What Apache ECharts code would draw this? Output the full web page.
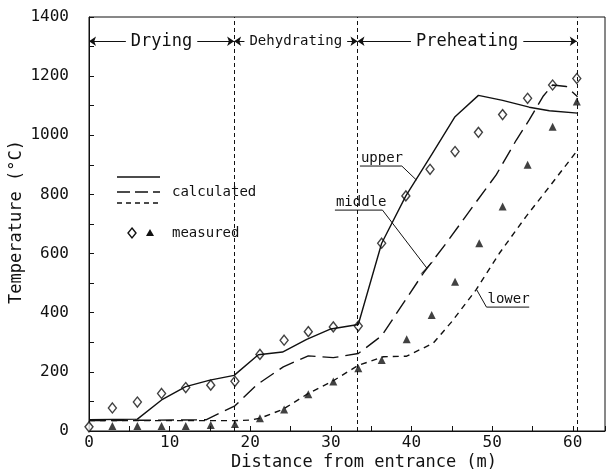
<!DOCTYPE html>
<html lang="en">
<head>
  <meta charset="UTF-8">
  <title>Temperature along the kiln</title>
  <script src="https://cdn.jsdelivr.net/npm/echarts@6/dist/echarts.min.js"></script>
  <style>
    body { margin: 0; background: #fff; }
    #chart { width: 608px; height: 471px; }
  </style>
</head>
<body>
  <div id="chart"></div>
  <script>
    // calculated temperature profiles [distance m, temperature °C]
    const upperCalc = [[0, 38], [6, 40], [9, 105], [12, 150], [15, 172], [18, 188], [21, 258], [24, 267], [27, 310], [30, 345], [33.4, 360], [36.3, 635], [39.3, 795], [42.5, 935], [45.4, 1063], [48.3, 1135], [51.3, 1118], [54.6, 1095], [57.1, 1083], [60.6, 1075]];
    const middleCalc = [[0, 35], [14.5, 38], [18.1, 85], [20.8, 156], [24.1, 217], [27.2, 254], [30.3, 248], [33.4, 262], [36.3, 322], [41.5, 535], [44.3, 635], [47.6, 759], [50.5, 866], [53, 984], [54.6, 1052], [56.3, 1131], [57.5, 1170], [59.2, 1165], [60.6, 1130]];
    const lowerCalc = [[0, 35], [18, 35], [20, 37], [21.2, 43], [24.1, 74], [27.2, 127], [30.3, 170], [33.4, 222], [36.5, 251], [39.4, 253], [42.7, 297], [45, 370], [48, 477], [50.9, 601], [54.2, 725], [57.1, 826], [60.6, 950]];

    // measured values
    const upperMeas = [[0, 14], [2.9, 78], [6, 98], [9, 127], [12, 147], [15.1, 155], [18.1, 168], [21.2, 259], [24.2, 307], [27.2, 336], [30.3, 352], [33.4, 355], [36.3, 635], [39.3, 795], [42.3, 885], [45.4, 945], [48.3, 1010], [51.3, 1070], [54.4, 1125], [57.5, 1170], [60.5, 1192]];
    const lowerMeas = [[2.9, 17], [6, 17], [9, 17], [12, 17], [15.1, 20], [18.1, 24], [21.2, 43], [24.2, 73], [27.2, 124], [30.3, 167], [33.4, 212], [36.3, 240], [39.4, 310], [42.5, 392], [45.4, 505], [48.4, 635], [51.3, 759], [54.4, 900], [57.5, 1029], [60.5, 1114]];

    // zones along the kiln
    const zoneBounds = [0, 18, 33.3, 60.5];
    const zoneNames = ['Drying', 'Dehydrating', 'Preheating'];
    const zoneFontSizes = [17, 14, 17];
    const zoneLevel = 1318;

    const FONT = '"DejaVu Sans Mono", monospace';
    const INK = '#111';

    const chart = echarts.init(document.getElementById('chart'));

    const zoneArrows = zoneNames.map((name, i) => [
      { coord: [zoneBounds[i], zoneLevel], name: name, label: { fontSize: zoneFontSizes[i] } },
      { coord: [zoneBounds[i + 1], zoneLevel] }
    ]);

    const option = {
      animation: false,
      grid: { left: 89, right: 3, top: 17, bottom: 40, show: true, borderColor: INK, borderWidth: 1 },
      xAxis: {
        type: 'value', min: 0, max: 64, interval: 5,
        axisLine: { lineStyle: { color: INK } },
        axisTick: { inside: true, length: 5, lineStyle: { color: INK } },
        splitLine: { show: false },
        axisLabel: {
          margin: 4, fontSize: 16, fontFamily: FONT, color: INK,
          formatter: v => (v % 10 === 0 ? v : '')
        }
      },
      yAxis: {
        type: 'value', min: 0, max: 1400, interval: 100,
        axisLine: { lineStyle: { color: INK } },
        axisTick: { inside: true, length: 5, lineStyle: { color: INK } },
        splitLine: { show: false },
        axisLabel: {
          margin: 20, fontSize: 16, fontFamily: FONT, color: INK,
          formatter: v => (v % 200 === 0 ? v : '')
        }
      },
      series: [
        {
          name: 'upper', type: 'line', data: upperCalc, symbol: 'none',
          lineStyle: { color: INK, width: 1.4 }
        },
        {
          name: 'middle', type: 'line', data: middleCalc, symbol: 'none',
          lineStyle: { color: INK, width: 1.4, type: [16, 7] }
        },
        {
          name: 'lower', type: 'line', data: lowerCalc, symbol: 'none',
          lineStyle: { color: INK, width: 1.4, type: [6, 5] }
        },
        {
          name: 'measured upper', type: 'scatter', data: upperMeas, symbol: 'diamond', symbolSize: [8, 10],
          itemStyle: { color: '#fff', borderColor: INK, borderWidth: 1.4 },
          markLine: {
            silent: true, symbol: ['arrow', 'arrow'], symbolSize: 7,
            lineStyle: { color: INK, width: 1, type: 'solid' },
            label: {
              show: true, position: 'middle', distance: 0, verticalAlign: 'middle',
              formatter: '{b}', color: INK, fontFamily: FONT,
              backgroundColor: '#fff', padding: [0, 5]
            },
            data: zoneArrows
          }
        },
        {
          name: 'measured lower', type: 'scatter', data: lowerMeas, symbol: 'triangle', symbolSize: 8,
          itemStyle: { color: INK },
          markLine: {
            silent: true, symbol: 'none',
            lineStyle: { color: INK, width: 1, type: [4, 3] },
            label: { show: false },
            data: zoneBounds.slice(1).map(x => ({ xAxis: x }))
          }
        }
      ]
    };
    chart.setOption(option);

    // annotation leaders, placed in data units
    const px = p => chart.convertToPixel({ gridIndex: 0 }, p);
    const notes = [
      { text: 'upper', pts: [[33.6, 896], [38.8, 896], [40.6, 849]] },
      { text: 'middle', pts: [[30.5, 747], [36.4, 747], [41.9, 551]], lead: [[41.2, 532], [42.6, 572]] },
      { text: 'lower', pts: [[49.3, 419], [54.6, 419]], lead: [[49.3, 419], [48.1, 477]] }
    ];
    const graphics = [];
    notes.forEach(n => {
      const p = n.pts.map(px);
      graphics.push({ type: 'polyline', shape: { points: p }, style: { stroke: INK, lineWidth: 1, fill: null } });
      if (n.lead) {
        graphics.push({ type: 'polyline', shape: { points: n.lead.map(px) }, style: { stroke: INK, lineWidth: 1, fill: null } });
      }
      graphics.push({
        type: 'text',
        style: { text: n.text, x: p[0][0] + 1, y: p[0][1] - 1, font: '14px ' + FONT, fill: INK, textVerticalAlign: 'bottom' }
      });
    });

    // legend box (drawn by hand like the original)
    graphics.push(
      { type: 'line', shape: { x1: 117, y1: 177, x2: 160, y2: 177 }, style: { stroke: INK, lineWidth: 1.4 } },
      { type: 'line', shape: { x1: 117, y1: 192, x2: 160, y2: 192 }, style: { stroke: INK, lineWidth: 1.4, lineDash: [13, 5] } },
      { type: 'line', shape: { x1: 117, y1: 203, x2: 160, y2: 203 }, style: { stroke: INK, lineWidth: 1.4, lineDash: [5, 4] } },
      { type: 'text', style: { text: 'calculated', x: 172, y: 192, font: '14px ' + FONT, fill: INK, textVerticalAlign: 'middle' } },
      { type: 'polygon', shape: { points: [[132, 228], [136, 233], [132, 238], [128, 233]] }, style: { fill: '#fff', stroke: INK, lineWidth: 1.4 } },
      { type: 'polygon', shape: { points: [[150, 229], [154, 236], [146, 236]] }, style: { fill: INK } },
      { type: 'text', style: { text: 'measured', x: 172, y: 233, font: '14px ' + FONT, fill: INK, textVerticalAlign: 'middle' } },
      // axis titles
      { type: 'text', style: { text: 'Distance from entrance (m)', x: 364, y: 463, font: '17px ' + FONT, fill: INK, textAlign: 'center', textVerticalAlign: 'middle' } },
      {
        type: 'text', x: 17, y: 222, rotation: Math.PI / 2,
        style: { text: 'Temperature (°C)', x: 0, y: 0, font: '17px ' + FONT, fill: INK, textAlign: 'center', textVerticalAlign: 'middle' }
      }
    );
    chart.setOption({ graphic: graphics });
  </script>
</body>
</html>
